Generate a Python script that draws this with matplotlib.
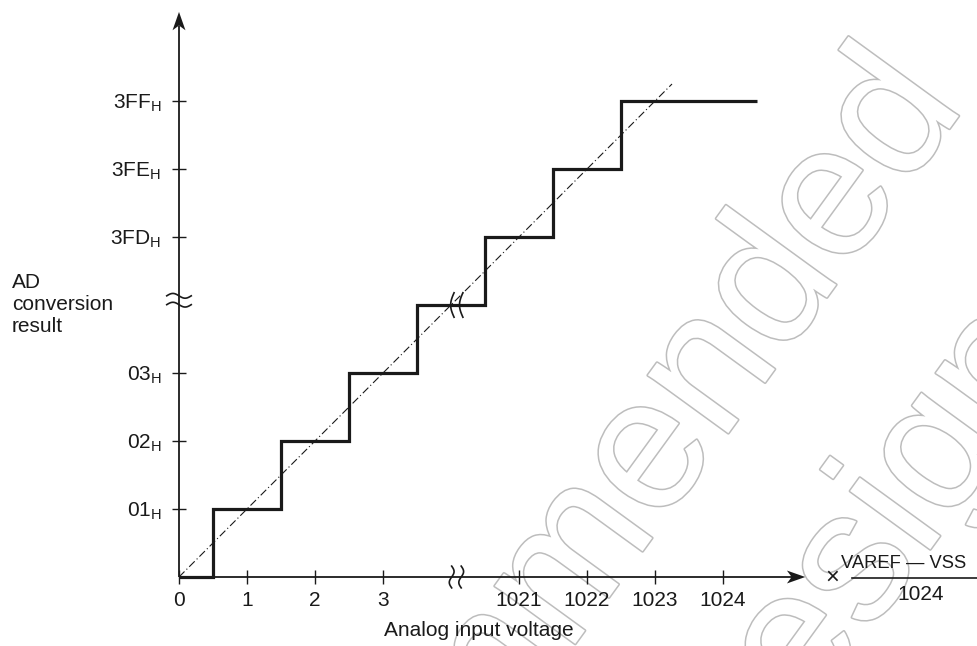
import numpy as np
import matplotlib
matplotlib.use("Agg")
import matplotlib.pyplot as plt
import matplotlib.patheffects as pe

plt.rcParams['font.family'] = ['Liberation Sans', 'DejaVu Sans']
plt.rcParams['mathtext.fontset'] = 'custom'
plt.rcParams['mathtext.rm'] = 'Liberation Sans'
plt.rcParams['mathtext.it'] = 'Liberation Sans:italic'

# ---- data ----
x_tick_pos = [0, 1, 2, 3, 5, 6, 7, 8]
x_tick_labels = ['0', '1', '2', '3', '1021', '1022', '1023', '1024']
y_tick_pos = [1, 2, 3, 5, 6, 7]
y_tick_codes = ['01', '02', '03', '3FD', '3FE', '3FF']
stair_edges = [0, 0.5, 1.5, 2.5, 3.5, 4.5, 5.5, 6.5, 8.5]
stair_levels = [0, 1, 2, 3, 4, 5, 6, 7]
ideal_x = [0, 7.25]
ideal_y = [0, 7.25]
x_break = 4.08
y_break = 4.07
stair_break = (4.11, 4.0)
x_axis_end = 9.21
y_axis_end = 8.31

INK = '#1a1a1a'
FS = 15

fig = plt.figure(figsize=(9.78, 6.46), dpi=100)
ax = fig.add_axes([0, 0, 1, 1])
ax.set_xlim(-179 / 68, (978 - 179) / 68)
ax.set_ylim(-(646 - 577) / 68, 577 / 68)
ax.set_facecolor('white')

# ---- watermark ----
wm_fx = dict(fontsize=135, color='white', rotation=54, rotation_mode='anchor',
             ha='right', va='baseline', transform=fig.transFigure, zorder=0,
             path_effects=[pe.Stroke(linewidth=2.2, foreground='#bdbdbd'), pe.Normal()])
ax.text(966 / 978, 1 - 106 / 646, 'Not recommended', **wm_fx)
ax.text(1070 / 978, 1 - 357 / 646, 'for new design', **wm_fx)

# ---- axes ----
for s in ['top', 'right', 'left', 'bottom']:
    ax.spines[s].set_visible(False)
ax.spines['left'].set_position(('data', 0))
ax.spines['bottom'].set_position(('data', 0))

ax.plot([0, x_axis_end - 0.2], [0, 0], color=INK, lw=1.3, zorder=3, solid_capstyle='butt')
ax.plot([0, 0], [0, y_axis_end - 0.2], color=INK, lw=1.3, zorder=3, solid_capstyle='butt')
# arrowheads (concave back)
hl, hw, ind = 0.27, 0.095, 0.07
ax.fill([x_axis_end, x_axis_end - hl, x_axis_end - hl + ind, x_axis_end - hl],
        [0, hw, 0, -hw], color=INK, lw=0, zorder=4)
ax.fill([0, hw, 0, -hw],
        [y_axis_end, y_axis_end - hl, y_axis_end - hl + ind, y_axis_end - hl],
        color=INK, lw=0, zorder=4)

ax.set_xticks(x_tick_pos)
ax.set_xticklabels(x_tick_labels, fontsize=FS, color=INK)
ax.set_yticks(y_tick_pos)
ax.set_yticklabels([c + r'$_{\mathrm{H}}$' for c in y_tick_codes], fontsize=FS, color=INK)
ax.tick_params(axis='both', direction='inout', length=9.5, width=1.0, colors=INK)
ax.tick_params(axis='x', pad=5)
ax.tick_params(axis='y', pad=8)

# ---- break marks ----
t = np.linspace(0, 1, 60)
for dy in (-0.065, 0.065):
    ax.plot(-0.18 + 0.36 * t, y_break + dy + 0.035 * np.sin(2 * np.pi * t),
            color=INK, lw=1.2, zorder=5)
for dx in (-0.07, 0.07):
    ax.plot(x_break + dx - 0.035 * np.sin(2 * np.pi * t), -0.16 + 0.32 * t,
            color=INK, lw=1.2, zorder=5)
for dx in (-0.065, 0.065):
    ax.plot(stair_break[0] + dx - 0.05 * np.sin(np.pi * t), stair_break[1] - 0.18 + 0.36 * t,
            color=INK, lw=1.2, zorder=5)

# ---- data lines ----
ax.stairs(stair_levels, stair_edges, baseline=None, color=INK, lw=2.3, zorder=4)
ax.plot(ideal_x, ideal_y, color=INK, lw=0.8, linestyle=(0, (7, 2.5, 1, 2.5)), zorder=4)

# ---- labels ----
ax.text(-2.456, 4.47, 'AD\nconversion\nresult', fontsize=FS, color=INK,
        ha='left', va='top', linespacing=1.2)
ax.text(4.41, -0.868, 'Analog input voltage', fontsize=FS, color=INK, ha='center', va='baseline')
ax.text(9.60, -0.015, '\u00d7', fontsize=17, color=INK, ha='center', va='center')
ax.text(10.66, 0.13, 'VAREF \u2014 VSS', fontsize=13.2, color=INK, ha='center', va='baseline')
ax.plot([9.90, 11.75], [-0.015, -0.015], color=INK, lw=1.2)
ax.text(10.9, -0.338, '1024', fontsize=FS, color=INK, ha='center', va='baseline')

fig.savefig('out.png', dpi=100, facecolor='white')
